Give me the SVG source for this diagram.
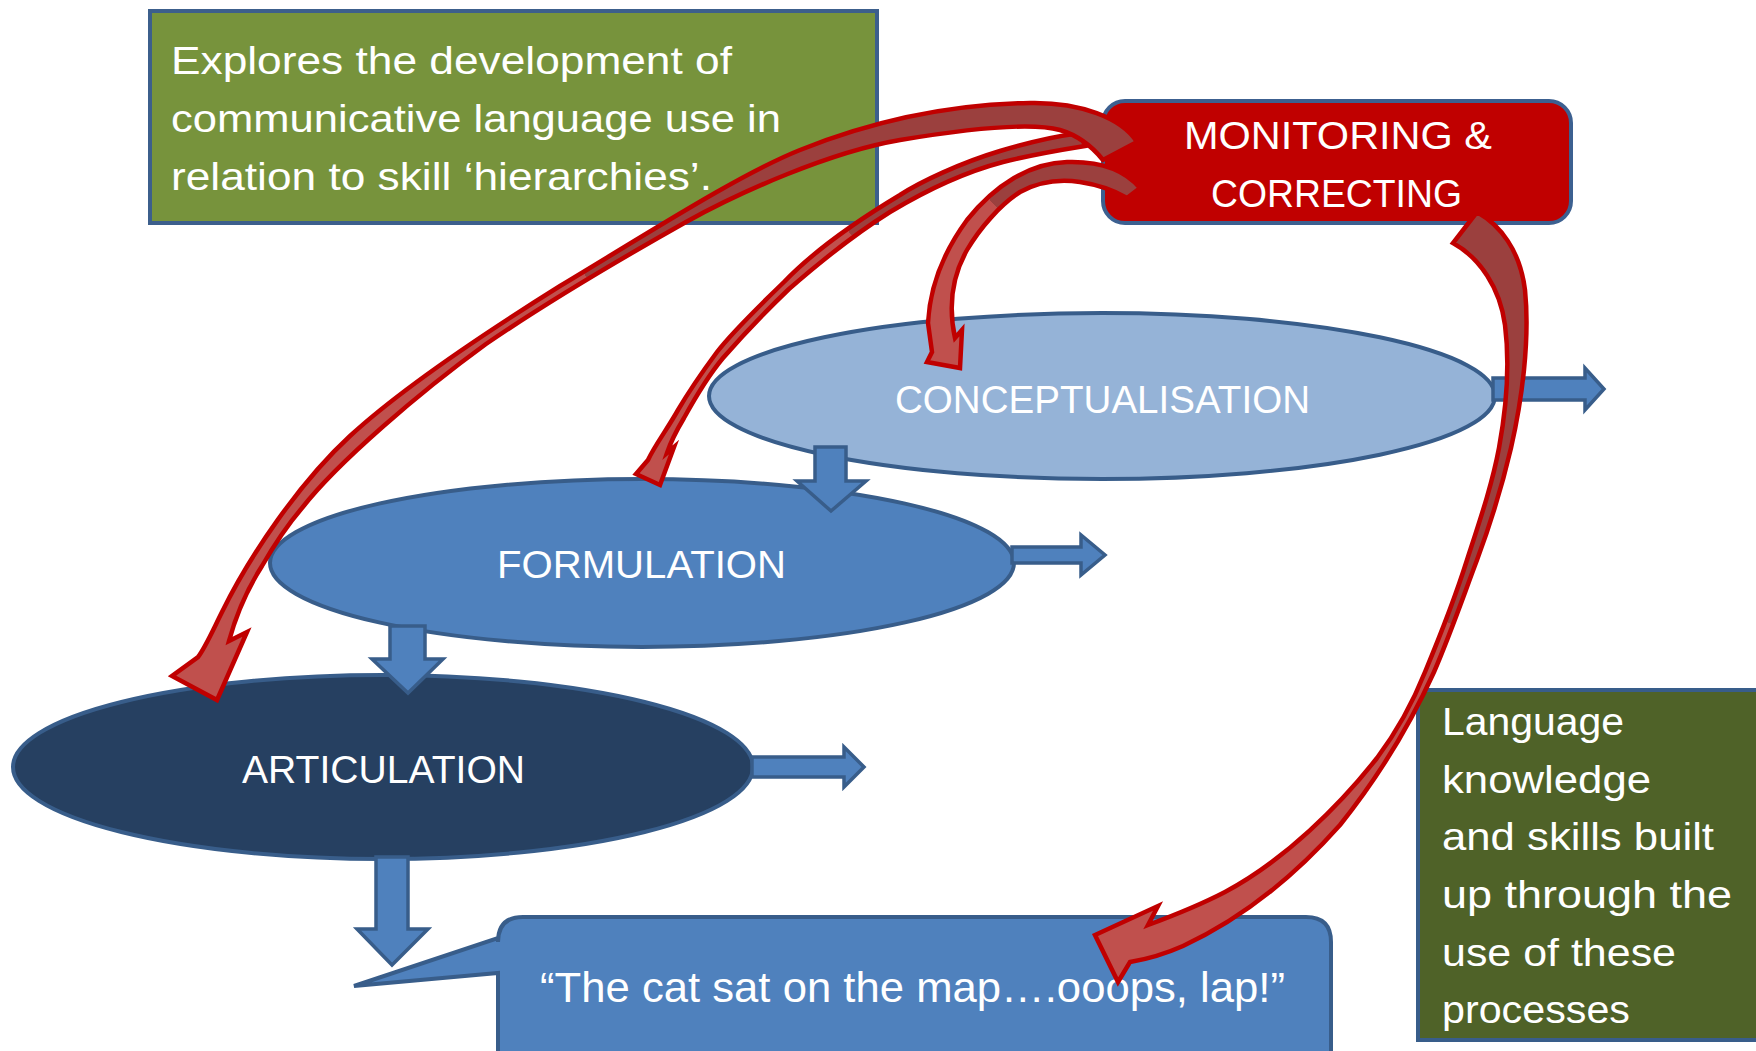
<svg xmlns="http://www.w3.org/2000/svg" width="1756" height="1051" viewBox="0 0 1756 1051">
<defs>
<style>
.blk{fill:#4F81BD;stroke:#385D8A;stroke-width:3.5;stroke-linejoin:miter}
.ell{stroke:#385D8A;stroke-width:4}
.red{stroke:#C00000;stroke-width:4.5;stroke-linejoin:miter}
.t{font-family:"Liberation Sans",Arial,sans-serif;fill:#FFFFFF;font-size:38px}
</style>
<linearGradient id="gA" gradientUnits="userSpaceOnUse" x1="1110" y1="130" x2="210" y2="670"><stop offset="0" stop-color="#9B403E"/><stop offset="0.5" stop-color="#9B403E"/><stop offset="0.5" stop-color="#C0504D"/><stop offset="1" stop-color="#C0504D"/></linearGradient>
<linearGradient id="gB" gradientUnits="userSpaceOnUse" x1="1090" y1="140" x2="655" y2="475"><stop offset="0" stop-color="#9B403E"/><stop offset="0.45" stop-color="#9B403E"/><stop offset="0.45" stop-color="#C0504D"/><stop offset="1" stop-color="#C0504D"/></linearGradient>
<linearGradient id="gC" gradientUnits="userSpaceOnUse" x1="1135" y1="190" x2="945" y2="360"><stop offset="0" stop-color="#9B403E"/><stop offset="0.45" stop-color="#9B403E"/><stop offset="0.45" stop-color="#C0504D"/><stop offset="1" stop-color="#C0504D"/></linearGradient>
<linearGradient id="gD" gradientUnits="userSpaceOnUse" x1="1465" y1="228" x2="1120" y2="960"><stop offset="0" stop-color="#9B403E"/><stop offset="0.45" stop-color="#9B403E"/><stop offset="0.45" stop-color="#C0504D"/><stop offset="1" stop-color="#C0504D"/></linearGradient>
</defs>
<rect width="1756" height="1051" fill="#FFFFFF"/>

<g id="intro-box">
<rect x="150" y="11" width="727" height="212" fill="#77933C" stroke="#3C5F8C" stroke-width="4"/>
<text class="t" x="171" y="74" textLength="561" lengthAdjust="spacingAndGlyphs">Explores the development of</text>
<text class="t" x="171" y="132" textLength="610" lengthAdjust="spacingAndGlyphs">communicative language use in</text>
<text class="t" x="171" y="190" textLength="541" lengthAdjust="spacingAndGlyphs">relation to skill ‘hierarchies’.</text>
</g>

<g id="monitoring">
<rect x="1103" y="101" width="468" height="122" rx="22" fill="#C00000" stroke="#3C6090" stroke-width="4"/>
<text class="t" x="1184" y="149" textLength="308" lengthAdjust="spacingAndGlyphs">MONITORING &amp;</text>
<text class="t" x="1211" y="207" textLength="251" lengthAdjust="spacingAndGlyphs">CORRECTING</text>
</g>

<g id="conceptualisation">
<ellipse class="ell" cx="1102" cy="396" rx="393" ry="83" fill="#95B3D7"/>
<text class="t" x="895" y="413" textLength="415" lengthAdjust="spacingAndGlyphs">CONCEPTUALISATION</text>
</g>

<g id="formulation">
<ellipse class="ell" cx="642" cy="563" rx="372" ry="84" fill="#4F81BD"/>
<text class="t" x="497" y="578" textLength="289" lengthAdjust="spacingAndGlyphs">FORMULATION</text>
</g>

<g id="articulation">
<ellipse class="ell" cx="383" cy="767" rx="370" ry="92" fill="#264061"/>
<text class="t" x="242" y="783" textLength="283" lengthAdjust="spacingAndGlyphs">ARTICULATION</text>
</g>

<g id="utterance">
<path d="M523,917 H1306 Q1331,917 1331,942 V1080 H498 V973 L354,986 L498,938 V942 Q498,917 523,917 Z" fill="#4F81BD" stroke="#385D8A" stroke-width="4"/>
<text class="t" x="540" y="1002" style="font-size:42px" textLength="745" lengthAdjust="spacingAndGlyphs">“The cat sat on the map….ooops, lap!”</text>
</g>

<g id="skills-box">
<rect x="1418" y="690" width="345" height="350" fill="#4F6228" stroke="#385D8A" stroke-width="4"/>
<text class="t" x="1442" y="735" textLength="182" lengthAdjust="spacingAndGlyphs">Language</text>
<text class="t" x="1442" y="793" textLength="209" lengthAdjust="spacingAndGlyphs">knowledge</text>
<text class="t" x="1442" y="850" textLength="272" lengthAdjust="spacingAndGlyphs">and skills built</text>
<text class="t" x="1442" y="908" textLength="290" lengthAdjust="spacingAndGlyphs">up through the</text>
<text class="t" x="1442" y="966" textLength="234" lengthAdjust="spacingAndGlyphs">use of these</text>
<text class="t" x="1442" y="1023" textLength="188" lengthAdjust="spacingAndGlyphs">processes</text>
</g>

<g id="connectors">
<path class="blk" d="M815,447 H846 V481 H866 L831,511 L797,481 H815 Z"/>
<path class="blk" d="M390,626 H425 V659 H443 L408,693 L372,659 H390 Z"/>
<path class="blk" d="M376,857 H408 V929 H428 L392,965 L357,929 H376 Z"/>
<path class="blk" d="M1493,378 H1585 V368 L1604,389 L1585,410 V400 H1493 Z"/>
<path class="blk" d="M1012,547 H1081 V535 L1105,555 L1081,575 V563 H1012 Z"/>
<path class="blk" d="M752,757 H844 V747 L864,767 L844,787 V777 H752 Z"/>

<path class="red" fill="url(#gB)" d="M1080,133 C1050,137 1030,142 1000,151 C960,163 920,182 900,195 C850,225 810,255 784,282 C755,310 730,335 717,352 C700,375 685,398 678,410 C668,428 655,445 648,460 L636,474 L660,485 L674,447 L667,453 C672,438 678,428 684,418 C695,398 708,376 723,358 C743,335 766,311 789,289 C820,262 858,232 890,212 C930,188 965,172 1003,162 C1035,154 1060,150 1085,146 Z"/>
<path class="red" fill="url(#gA)" d="M1137,142 C1122,118 1080,102 1030,103 C960,104 880,118 800,150 C740,174 650,232 560,286 C480,336 400,390 350,436 C300,482 250,555 222,612 C212,632 205,648 198,657 L172,676 L217,700 L247,632 L229,641 C236,615 248,588 262,566 C277,540 290,522 302,508 C338,462 420,392 486,344 C540,307 615,262 686,222 C740,192 830,152 900,140 C960,130 1030,122 1060,130 C1080,136 1095,150 1103,160 Z"/>
<path class="red" fill="url(#gC)" d="M1140,188 C1125,170 1100,161 1067,162 C1030,163 995,185 967,220 C945,250 930,285 928,323 L932,352 L927,362 L960,368 L962,330 L955,338 C949,310 950,280 967,250 C980,228 1000,205 1020,192 C1040,181 1060,179 1080,182 C1100,185 1115,191 1127,198 Z"/>
<path class="red" fill="url(#gD)" d="M1477,212 C1500,225 1520,250 1525,290 C1530,340 1522,400 1511,448 C1500,495 1490,525 1477,560 C1462,600 1450,635 1434,672 C1410,725 1380,775 1340,825 C1300,870 1250,915 1183,946 C1165,954 1148,959 1130,962 L1118,982 L1095,935 L1158,906 L1148,925 C1175,915 1200,905 1225,892 C1285,860 1340,805 1377,758 C1398,730 1413,702 1425,672 C1440,636 1455,598 1467,560 C1480,520 1492,485 1499,448 C1506,410 1510,365 1505,325 C1500,288 1480,258 1453,243 Z"/>
</g>
</svg>
